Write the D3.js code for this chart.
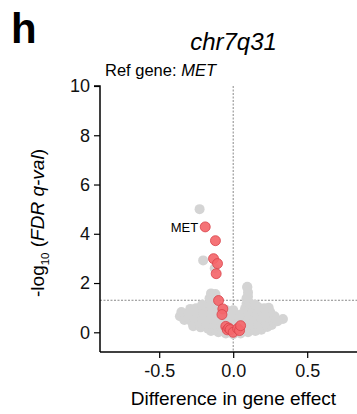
<!DOCTYPE html>
<html>
<head>
<meta charset="utf-8">
<script src="https://cdn.jsdelivr.net/npm/d3@7"></script>
<style>
html,body{margin:0;padding:0;background:#fff;}
svg{display:block;font-family:"Liberation Sans",Arial,sans-serif;}
</style>
</head>
<body>
<svg id="chart" width="357" height="414"></svg>
<script>
// ---- data ----
const grayX = [
  -0.227,-0.203,-0.125, 0.095, 0.336,
  -0.15,-0.10,-0.05, 0.00, 0.05, 0.10, 0.15, 0.19,
  -0.27,-0.22,-0.17,-0.12,-0.07,-0.02, 0.03, 0.08, 0.13, 0.18, 0.23, 0.26,
  -0.33,-0.28,-0.23,-0.18,-0.13,-0.08,-0.03, 0.02, 0.07, 0.12, 0.17, 0.22, 0.27, 0.30,
  -0.36,-0.31,-0.26,-0.21,-0.16,-0.11,-0.06,-0.01, 0.04, 0.09, 0.14, 0.19, 0.24, 0.28,
  -0.35,-0.30,-0.25,-0.20,-0.15,-0.10,-0.05, 0.00, 0.05, 0.10, 0.15, 0.20, 0.25,
  -0.29,-0.25,-0.20,-0.15,-0.10,-0.05, 0.00, 0.08, 0.12, 0.17, 0.21, 0.24,
  -0.21,-0.16,-0.12, 0.09, 0.11, 0.15,
  -0.16,-0.12, 0.09, 0.10,
  -0.15,-0.12, 0.10,
   0.095
];
const grayY = [
  5.00, 2.92, 2.60, 1.85, 0.54,
  0.05, 0.00,-0.05,-0.08,-0.05, 0.00, 0.05, 0.10,
  0.25, 0.20, 0.15, 0.12, 0.10, 0.08, 0.10, 0.12, 0.15, 0.18, 0.22, 0.30,
  0.50, 0.42, 0.38, 0.35, 0.33, 0.32, 0.30, 0.30, 0.32, 0.33, 0.35, 0.38, 0.42, 0.45,
  0.65, 0.60, 0.58, 0.55, 0.55, 0.53, 0.52, 0.50, 0.52, 0.55, 0.55, 0.58, 0.60, 0.65,
  0.82, 0.80, 0.78, 0.78, 0.76, 0.75, 0.72, 0.70, 0.72, 0.75, 0.78, 0.80, 0.82,
  0.95, 0.98, 1.00, 1.00, 0.98, 0.92, 0.90, 0.95, 1.00, 1.02, 0.98, 1.00,
  1.12, 1.18, 1.15, 1.15, 1.20, 1.12,
  1.38, 1.40, 1.38, 1.45,
  1.58, 1.55, 1.62,
  1.82
];
const redX = [-0.189,-0.120,-0.133,-0.106,-0.115,-0.099,-0.070,-0.076,-0.050,-0.040,-0.030,-0.020, 0.000, 0.030, 0.043, 0.050];
const redY = [ 4.28, 3.72, 2.99, 2.79, 2.38, 1.29, 0.95, 0.72, 0.24, 0.10, 0.17, 0.11, 0.00, 0.15, 0.07, 0.27];
const labelGene = "MET";
const yTicks = [0, 2, 4, 6, 8, 10];
const xTicks = [-0.5, 0.0, 0.5];
const qThreshold = -Math.log10(0.05);

// ---- drawing ----
const svg = d3.select("#chart");
const x = d3.scaleLinear().domain([-0.9, 0.9]).range([100, 366.4]);
const y = d3.scaleLinear().domain([-0.8, 10]).range([352, 86]);

// panel letter and titles
svg.append("text").attr("x", 11).attr("y", 43)
  .attr("font-size", 42).attr("font-weight", "bold").text("h");
svg.append("text").attr("x", 233.5).attr("y", 49.5).attr("text-anchor", "middle")
  .attr("font-size", 24).attr("font-style", "italic").text("chr7q31");
const ref = svg.append("text").attr("x", 105).attr("y", 76).attr("font-size", 16.5);
ref.append("tspan").text("Ref gene: ");
ref.append("tspan").attr("font-style", "italic").text("MET");

// reference lines
svg.append("line").attr("x1", x(0)).attr("x2", x(0)).attr("y1", y(10)).attr("y2", 352)
  .attr("stroke", "#888").attr("stroke-width", 1).attr("stroke-dasharray", "2,1.5");
svg.append("line").attr("x1", 100).attr("x2", 357).attr("y1", y(qThreshold)).attr("y2", y(qThreshold))
  .attr("stroke", "#888").attr("stroke-width", 1).attr("stroke-dasharray", "2,1.5");

// points
const R = 5;
const gray = grayX.map((v, i) => ({x: v, y: grayY[i]}));
const red = redX.map((v, i) => ({x: v, y: redY[i]}));
svg.append("g").selectAll("circle").data(gray).join("circle")
  .attr("cx", d => x(d.x)).attr("cy", d => y(d.y)).attr("r", R)
  .attr("fill", "#d4d4d4");
svg.append("g").selectAll("circle").data(red).join("circle")
  .attr("cx", d => x(d.x)).attr("cy", d => y(d.y)).attr("r", R)
  .attr("fill", "#f4676b").attr("fill-opacity", 0.92)
  .attr("stroke", "#d8424a").attr("stroke-width", 0.8);

// gene label
svg.append("text").attr("x", x(redX[0]) - 7).attr("y", y(redY[0]) + 4.7)
  .attr("text-anchor", "end").attr("font-size", 13).text(labelGene);

// axes
const fmtX = d => d3.format(".1f")(d).replace("\u2212", "-");
const yAxis = svg.append("g").attr("transform", "translate(100,0)")
  .call(d3.axisLeft(y).tickValues(yTicks).tickSize(6).tickPadding(4).tickFormat(d3.format("d")));
const xAxis = svg.append("g").attr("transform", "translate(0,352)")
  .call(d3.axisBottom(x).tickValues(xTicks).tickSize(6).tickPadding(6).tickFormat(fmtX));
[yAxis, xAxis].forEach(a => {
  a.select(".domain").attr("stroke", "#000").attr("stroke-width", 1.5);
  a.selectAll(".tick line").attr("stroke", "#000").attr("stroke-width", 1.2);
  a.selectAll(".tick text").attr("fill", "#111").attr("font-size", 18)
    .attr("font-family", "'Liberation Sans', Arial, sans-serif");
});
yAxis.select(".domain").attr("d", `M-6,${y(10)}H0V352`);
xAxis.select(".domain").attr("d", `M100,0H357`);

// axis titles
svg.append("text").attr("x", 233.5).attr("y", 405).attr("text-anchor", "middle")
  .attr("font-size", 19).text("Difference in gene effect");
const yl = svg.append("text").attr("transform", "translate(44,223) rotate(-90)")
  .attr("text-anchor", "middle").attr("font-size", 19);
yl.append("tspan").text("-log");
yl.append("tspan").attr("font-size", 11.5).attr("dy", 5).text("10");
yl.append("tspan").attr("dy", -5).text(" (");
yl.append("tspan").attr("font-style", "italic").text("FDR q-val");
yl.append("tspan").text(")");
</script>
</body>
</html>
